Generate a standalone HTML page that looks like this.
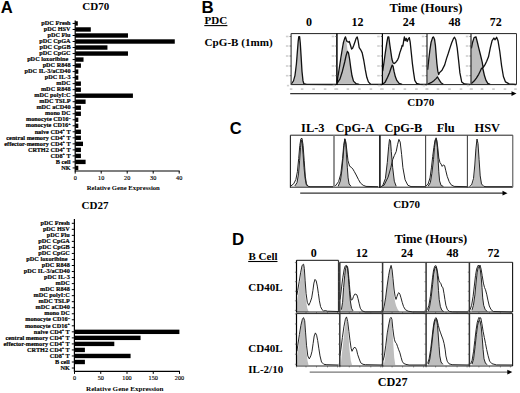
<!DOCTYPE html>
<html><head><meta charset="utf-8"><style>
html,body{margin:0;padding:0;background:#fff;}
#c{position:relative;width:520px;height:393px;overflow:hidden;background:#fff;}
svg{position:absolute;left:0;top:0;}
</style></head><body><div id="c">
<svg width="520" height="393" viewBox="0 0 520 393">
<text x="0.8" y="13.1" font-size="16.6" text-anchor="start" font-weight="bold" font-family='"Liberation Sans", sans-serif' fill="#000" >A</text>
<text x="82.3" y="10.0" font-size="11" text-anchor="start" font-weight="bold" font-family='"Liberation Serif", serif' fill="#000" >CD70</text>
<line x1="75.2" y1="20.5" x2="75.2" y2="171.5" stroke="#000" stroke-width="1.2"/>
<line x1="72.60000000000001" y1="23.45" x2="75.2" y2="23.45" stroke="#000" stroke-width="1.0"/>
<text x="70.60000000000001" y="25.15" font-size="6.25" text-anchor="end" font-weight="bold" font-family='"Liberation Serif", serif' fill="#000" stroke="#000" stroke-width="0.18">pDC Fresh</text>
<rect x="75.20" y="21.25" width="2.60" height="4.40" fill="#000"/>
<line x1="72.60000000000001" y1="29.47" x2="75.2" y2="29.47" stroke="#000" stroke-width="1.0"/>
<text x="70.60000000000001" y="31.169999999999998" font-size="6.25" text-anchor="end" font-weight="bold" font-family='"Liberation Serif", serif' fill="#000" stroke="#000" stroke-width="0.18">pDC HSV</text>
<rect x="75.20" y="27.27" width="15.60" height="4.40" fill="#000"/>
<line x1="72.60000000000001" y1="35.489999999999995" x2="75.2" y2="35.489999999999995" stroke="#000" stroke-width="1.0"/>
<text x="70.60000000000001" y="37.19" font-size="6.25" text-anchor="end" font-weight="bold" font-family='"Liberation Serif", serif' fill="#000" stroke="#000" stroke-width="0.18">pDC Flu</text>
<rect x="75.20" y="33.29" width="52.78" height="4.40" fill="#000"/>
<line x1="72.60000000000001" y1="41.51" x2="75.2" y2="41.51" stroke="#000" stroke-width="1.0"/>
<text x="70.60000000000001" y="43.21" font-size="6.25" text-anchor="end" font-weight="bold" font-family='"Liberation Serif", serif' fill="#000" stroke="#000" stroke-width="0.18">pDC CpGA</text>
<rect x="75.20" y="39.31" width="99.58" height="4.40" fill="#000"/>
<line x1="72.60000000000001" y1="47.53" x2="75.2" y2="47.53" stroke="#000" stroke-width="1.0"/>
<text x="70.60000000000001" y="49.230000000000004" font-size="6.25" text-anchor="end" font-weight="bold" font-family='"Liberation Serif", serif' fill="#000" stroke="#000" stroke-width="0.18">pDC CpGB</text>
<rect x="75.20" y="45.33" width="32.24" height="4.40" fill="#000"/>
<line x1="72.60000000000001" y1="53.55" x2="75.2" y2="53.55" stroke="#000" stroke-width="1.0"/>
<text x="70.60000000000001" y="55.25" font-size="6.25" text-anchor="end" font-weight="bold" font-family='"Liberation Serif", serif' fill="#000" stroke="#000" stroke-width="0.18">pDC CpGC</text>
<rect x="75.20" y="51.35" width="52.78" height="4.40" fill="#000"/>
<line x1="72.60000000000001" y1="59.56999999999999" x2="75.2" y2="59.56999999999999" stroke="#000" stroke-width="1.0"/>
<text x="68.30000000000001" y="61.269999999999996" font-size="6.25" text-anchor="end" font-weight="bold" font-family='"Liberation Serif", serif' fill="#000" stroke="#000" stroke-width="0.18">pDC loxoribine</text>
<rect x="75.20" y="57.37" width="8.32" height="4.40" fill="#000"/>
<line x1="72.60000000000001" y1="65.59" x2="75.2" y2="65.59" stroke="#000" stroke-width="1.0"/>
<text x="70.60000000000001" y="67.29" font-size="6.25" text-anchor="end" font-weight="bold" font-family='"Liberation Serif", serif' fill="#000" stroke="#000" stroke-width="0.18">pDC R848</text>
<rect x="75.20" y="63.39" width="5.72" height="4.40" fill="#000"/>
<line x1="72.60000000000001" y1="71.61" x2="75.2" y2="71.61" stroke="#000" stroke-width="1.0"/>
<text x="70.60000000000001" y="73.31" font-size="6.25" text-anchor="end" font-weight="bold" font-family='"Liberation Serif", serif' fill="#000" stroke="#000" stroke-width="0.18">pDC IL-3/aCD40</text>
<rect x="75.20" y="69.41" width="3.12" height="4.40" fill="#000"/>
<line x1="72.60000000000001" y1="77.63" x2="75.2" y2="77.63" stroke="#000" stroke-width="1.0"/>
<text x="70.60000000000001" y="79.33" font-size="6.25" text-anchor="end" font-weight="bold" font-family='"Liberation Serif", serif' fill="#000" stroke="#000" stroke-width="0.18">pDC IL-3</text>
<rect x="75.20" y="75.43" width="3.12" height="4.40" fill="#000"/>
<line x1="72.60000000000001" y1="83.64999999999999" x2="75.2" y2="83.64999999999999" stroke="#000" stroke-width="1.0"/>
<text x="70.60000000000001" y="85.35" font-size="6.25" text-anchor="end" font-weight="bold" font-family='"Liberation Serif", serif' fill="#000" stroke="#000" stroke-width="0.18">mDC</text>
<rect x="75.20" y="81.45" width="5.72" height="4.40" fill="#000"/>
<line x1="72.60000000000001" y1="89.67" x2="75.2" y2="89.67" stroke="#000" stroke-width="1.0"/>
<text x="70.60000000000001" y="91.37" font-size="6.25" text-anchor="end" font-weight="bold" font-family='"Liberation Serif", serif' fill="#000" stroke="#000" stroke-width="0.18">mDC R848</text>
<rect x="75.20" y="87.47" width="5.72" height="4.40" fill="#000"/>
<line x1="72.60000000000001" y1="95.69" x2="75.2" y2="95.69" stroke="#000" stroke-width="1.0"/>
<text x="70.60000000000001" y="97.39" font-size="6.25" text-anchor="end" font-weight="bold" font-family='"Liberation Serif", serif' fill="#000" stroke="#000" stroke-width="0.18">mDC polyI:C</text>
<rect x="75.20" y="93.49" width="57.72" height="4.40" fill="#000"/>
<line x1="72.60000000000001" y1="101.71" x2="75.2" y2="101.71" stroke="#000" stroke-width="1.0"/>
<text x="70.60000000000001" y="103.41" font-size="6.25" text-anchor="end" font-weight="bold" font-family='"Liberation Serif", serif' fill="#000" stroke="#000" stroke-width="0.18">mDC TSLP</text>
<rect x="75.20" y="99.51" width="10.40" height="4.40" fill="#000"/>
<line x1="72.60000000000001" y1="107.73" x2="75.2" y2="107.73" stroke="#000" stroke-width="1.0"/>
<text x="70.60000000000001" y="109.43" font-size="6.25" text-anchor="end" font-weight="bold" font-family='"Liberation Serif", serif' fill="#000" stroke="#000" stroke-width="0.18">mDC aCD40</text>
<rect x="75.20" y="105.53" width="5.72" height="4.40" fill="#000"/>
<line x1="72.60000000000001" y1="113.75" x2="75.2" y2="113.75" stroke="#000" stroke-width="1.0"/>
<text x="70.60000000000001" y="115.45" font-size="6.25" text-anchor="end" font-weight="bold" font-family='"Liberation Serif", serif' fill="#000" stroke="#000" stroke-width="0.18">mono DC</text>
<rect x="75.20" y="111.55" width="5.72" height="4.40" fill="#000"/>
<line x1="72.60000000000001" y1="119.77" x2="75.2" y2="119.77" stroke="#000" stroke-width="1.0"/>
<text x="70.60000000000001" y="121.47" font-size="6.25" text-anchor="end" font-weight="bold" font-family='"Liberation Serif", serif' fill="#000" stroke="#000" stroke-width="0.18">monocyte CD16<tspan dy="-2.6" font-size="4.2">&#8211;</tspan></text>
<rect x="75.20" y="117.57" width="3.12" height="4.40" fill="#000"/>
<line x1="72.60000000000001" y1="125.78999999999999" x2="75.2" y2="125.78999999999999" stroke="#000" stroke-width="1.0"/>
<text x="70.60000000000001" y="127.49" font-size="6.25" text-anchor="end" font-weight="bold" font-family='"Liberation Serif", serif' fill="#000" stroke="#000" stroke-width="0.18">monocyte CD16<tspan dy="-2.6" font-size="4.2">+</tspan></text>
<rect x="75.20" y="123.59" width="3.12" height="4.40" fill="#000"/>
<line x1="72.60000000000001" y1="131.80999999999997" x2="75.2" y2="131.80999999999997" stroke="#000" stroke-width="1.0"/>
<text x="70.60000000000001" y="133.50999999999996" font-size="6.25" text-anchor="end" font-weight="bold" font-family='"Liberation Serif", serif' fill="#000" stroke="#000" stroke-width="0.18">naive CD4<tspan dy="-2.6" font-size="4.2">+</tspan><tspan dy="2.6"> T</tspan></text>
<rect x="75.20" y="129.61" width="5.72" height="4.40" fill="#000"/>
<line x1="72.60000000000001" y1="137.82999999999998" x2="75.2" y2="137.82999999999998" stroke="#000" stroke-width="1.0"/>
<text x="70.60000000000001" y="139.52999999999997" font-size="6.25" text-anchor="end" font-weight="bold" font-family='"Liberation Serif", serif' fill="#000" stroke="#000" stroke-width="0.18">central memory CD4<tspan dy="-2.6" font-size="4.2">+</tspan><tspan dy="2.6"> T</tspan></text>
<rect x="75.20" y="135.63" width="5.72" height="4.40" fill="#000"/>
<line x1="72.60000000000001" y1="143.85" x2="75.2" y2="143.85" stroke="#000" stroke-width="1.0"/>
<text x="70.60000000000001" y="145.54999999999998" font-size="6.25" text-anchor="end" font-weight="bold" font-family='"Liberation Serif", serif' fill="#000" stroke="#000" stroke-width="0.18">effector-memory CD4<tspan dy="-2.6" font-size="4.2">+</tspan><tspan dy="2.6"> T</tspan></text>
<rect x="75.20" y="141.65" width="7.80" height="4.40" fill="#000"/>
<line x1="72.60000000000001" y1="149.86999999999998" x2="75.2" y2="149.86999999999998" stroke="#000" stroke-width="1.0"/>
<text x="70.60000000000001" y="151.56999999999996" font-size="6.25" text-anchor="end" font-weight="bold" font-family='"Liberation Serif", serif' fill="#000" stroke="#000" stroke-width="0.18">CRTH2 CD4<tspan dy="-2.6" font-size="4.2">+</tspan><tspan dy="2.6"> T</tspan></text>
<rect x="75.20" y="147.67" width="5.72" height="4.40" fill="#000"/>
<line x1="72.60000000000001" y1="155.89" x2="75.2" y2="155.89" stroke="#000" stroke-width="1.0"/>
<text x="70.60000000000001" y="157.58999999999997" font-size="6.25" text-anchor="end" font-weight="bold" font-family='"Liberation Serif", serif' fill="#000" stroke="#000" stroke-width="0.18">CD8<tspan dy="-2.6" font-size="4.2">+</tspan><tspan dy="2.6"> T</tspan></text>
<rect x="75.20" y="153.69" width="5.72" height="4.40" fill="#000"/>
<line x1="72.60000000000001" y1="161.90999999999997" x2="75.2" y2="161.90999999999997" stroke="#000" stroke-width="1.0"/>
<text x="70.60000000000001" y="163.60999999999996" font-size="6.25" text-anchor="end" font-weight="bold" font-family='"Liberation Serif", serif' fill="#000" stroke="#000" stroke-width="0.18">B cell</text>
<rect x="75.20" y="159.71" width="10.40" height="4.40" fill="#000"/>
<line x1="72.60000000000001" y1="167.92999999999998" x2="75.2" y2="167.92999999999998" stroke="#000" stroke-width="1.0"/>
<text x="70.60000000000001" y="169.62999999999997" font-size="6.25" text-anchor="end" font-weight="bold" font-family='"Liberation Serif", serif' fill="#000" stroke="#000" stroke-width="0.18">NK</text>
<rect x="75.20" y="165.73" width="3.12" height="4.40" fill="#000"/>
<line x1="75.2" y1="171.0" x2="179.7" y2="171.0" stroke="#000" stroke-width="1.2"/>
<line x1="75.2" y1="171.0" x2="75.2" y2="173.6" stroke="#000" stroke-width="1.0"/>
<text x="75.2" y="179.6" font-size="6.2" text-anchor="middle" font-weight="normal" font-family='"Liberation Serif", serif' fill="#000" stroke="#000" stroke-width="0.15">0</text>
<line x1="101.2" y1="171.0" x2="101.2" y2="173.6" stroke="#000" stroke-width="1.0"/>
<text x="101.2" y="179.6" font-size="6.2" text-anchor="middle" font-weight="normal" font-family='"Liberation Serif", serif' fill="#000" stroke="#000" stroke-width="0.15">10</text>
<line x1="127.2" y1="171.0" x2="127.2" y2="173.6" stroke="#000" stroke-width="1.0"/>
<text x="127.2" y="179.6" font-size="6.2" text-anchor="middle" font-weight="normal" font-family='"Liberation Serif", serif' fill="#000" stroke="#000" stroke-width="0.15">20</text>
<line x1="153.2" y1="171.0" x2="153.2" y2="173.6" stroke="#000" stroke-width="1.0"/>
<text x="153.2" y="179.6" font-size="6.2" text-anchor="middle" font-weight="normal" font-family='"Liberation Serif", serif' fill="#000" stroke="#000" stroke-width="0.15">30</text>
<line x1="179.2" y1="171.0" x2="179.2" y2="173.6" stroke="#000" stroke-width="1.0"/>
<text x="179.2" y="179.6" font-size="6.2" text-anchor="middle" font-weight="normal" font-family='"Liberation Serif", serif' fill="#000" stroke="#000" stroke-width="0.15">40</text>
<text x="123.3" y="190.4" font-size="6.7" text-anchor="middle" font-weight="bold" font-family='"Liberation Serif", serif' fill="#000" >Relative Gene Expression</text>
<text x="81.5" y="209.0" font-size="11" text-anchor="start" font-weight="bold" font-family='"Liberation Serif", serif' fill="#000" >CD27</text>
<line x1="74.4" y1="219" x2="74.4" y2="371.8" stroke="#000" stroke-width="1.2"/>
<line x1="71.80000000000001" y1="223.3" x2="74.4" y2="223.3" stroke="#000" stroke-width="1.0"/>
<text x="69.80000000000001" y="225.0" font-size="6.25" text-anchor="end" font-weight="bold" font-family='"Liberation Serif", serif' fill="#000" stroke="#000" stroke-width="0.18">pDC Fresh</text>
<line x1="71.80000000000001" y1="229.33" x2="74.4" y2="229.33" stroke="#000" stroke-width="1.0"/>
<text x="69.80000000000001" y="231.03" font-size="6.25" text-anchor="end" font-weight="bold" font-family='"Liberation Serif", serif' fill="#000" stroke="#000" stroke-width="0.18">pDC HSV</text>
<line x1="71.80000000000001" y1="235.36" x2="74.4" y2="235.36" stroke="#000" stroke-width="1.0"/>
<text x="69.80000000000001" y="237.06" font-size="6.25" text-anchor="end" font-weight="bold" font-family='"Liberation Serif", serif' fill="#000" stroke="#000" stroke-width="0.18">pDC Flu</text>
<line x1="71.80000000000001" y1="241.39000000000001" x2="74.4" y2="241.39000000000001" stroke="#000" stroke-width="1.0"/>
<text x="69.80000000000001" y="243.09" font-size="6.25" text-anchor="end" font-weight="bold" font-family='"Liberation Serif", serif' fill="#000" stroke="#000" stroke-width="0.18">pDC CpGA</text>
<line x1="71.80000000000001" y1="247.42000000000002" x2="74.4" y2="247.42000000000002" stroke="#000" stroke-width="1.0"/>
<text x="69.80000000000001" y="249.12" font-size="6.25" text-anchor="end" font-weight="bold" font-family='"Liberation Serif", serif' fill="#000" stroke="#000" stroke-width="0.18">pDC CpGB</text>
<line x1="71.80000000000001" y1="253.45000000000002" x2="74.4" y2="253.45000000000002" stroke="#000" stroke-width="1.0"/>
<text x="69.80000000000001" y="255.15" font-size="6.25" text-anchor="end" font-weight="bold" font-family='"Liberation Serif", serif' fill="#000" stroke="#000" stroke-width="0.18">pDC CpGC</text>
<line x1="71.80000000000001" y1="259.48" x2="74.4" y2="259.48" stroke="#000" stroke-width="1.0"/>
<text x="67.50000000000001" y="261.18" font-size="6.25" text-anchor="end" font-weight="bold" font-family='"Liberation Serif", serif' fill="#000" stroke="#000" stroke-width="0.18">pDC loxoribine</text>
<line x1="71.80000000000001" y1="265.51" x2="74.4" y2="265.51" stroke="#000" stroke-width="1.0"/>
<text x="69.80000000000001" y="267.21" font-size="6.25" text-anchor="end" font-weight="bold" font-family='"Liberation Serif", serif' fill="#000" stroke="#000" stroke-width="0.18">pDC R848</text>
<line x1="71.80000000000001" y1="271.54" x2="74.4" y2="271.54" stroke="#000" stroke-width="1.0"/>
<text x="69.80000000000001" y="273.24" font-size="6.25" text-anchor="end" font-weight="bold" font-family='"Liberation Serif", serif' fill="#000" stroke="#000" stroke-width="0.18">pDC IL-3/aCD40</text>
<line x1="71.80000000000001" y1="277.57" x2="74.4" y2="277.57" stroke="#000" stroke-width="1.0"/>
<text x="69.80000000000001" y="279.27" font-size="6.25" text-anchor="end" font-weight="bold" font-family='"Liberation Serif", serif' fill="#000" stroke="#000" stroke-width="0.18">pDC IL-3</text>
<line x1="71.80000000000001" y1="283.6" x2="74.4" y2="283.6" stroke="#000" stroke-width="1.0"/>
<text x="69.80000000000001" y="285.3" font-size="6.25" text-anchor="end" font-weight="bold" font-family='"Liberation Serif", serif' fill="#000" stroke="#000" stroke-width="0.18">mDC</text>
<line x1="71.80000000000001" y1="289.63" x2="74.4" y2="289.63" stroke="#000" stroke-width="1.0"/>
<text x="69.80000000000001" y="291.33" font-size="6.25" text-anchor="end" font-weight="bold" font-family='"Liberation Serif", serif' fill="#000" stroke="#000" stroke-width="0.18">mDC R848</text>
<line x1="71.80000000000001" y1="295.66" x2="74.4" y2="295.66" stroke="#000" stroke-width="1.0"/>
<text x="69.80000000000001" y="297.36" font-size="6.25" text-anchor="end" font-weight="bold" font-family='"Liberation Serif", serif' fill="#000" stroke="#000" stroke-width="0.18">mDC polyI:C</text>
<line x1="71.80000000000001" y1="301.69" x2="74.4" y2="301.69" stroke="#000" stroke-width="1.0"/>
<text x="69.80000000000001" y="303.39" font-size="6.25" text-anchor="end" font-weight="bold" font-family='"Liberation Serif", serif' fill="#000" stroke="#000" stroke-width="0.18">mDC TSLP</text>
<line x1="71.80000000000001" y1="307.72" x2="74.4" y2="307.72" stroke="#000" stroke-width="1.0"/>
<text x="69.80000000000001" y="309.42" font-size="6.25" text-anchor="end" font-weight="bold" font-family='"Liberation Serif", serif' fill="#000" stroke="#000" stroke-width="0.18">mDC aCD40</text>
<line x1="71.80000000000001" y1="313.75" x2="74.4" y2="313.75" stroke="#000" stroke-width="1.0"/>
<text x="69.80000000000001" y="315.45" font-size="6.25" text-anchor="end" font-weight="bold" font-family='"Liberation Serif", serif' fill="#000" stroke="#000" stroke-width="0.18">mono DC</text>
<line x1="71.80000000000001" y1="319.78000000000003" x2="74.4" y2="319.78000000000003" stroke="#000" stroke-width="1.0"/>
<text x="69.80000000000001" y="321.48" font-size="6.25" text-anchor="end" font-weight="bold" font-family='"Liberation Serif", serif' fill="#000" stroke="#000" stroke-width="0.18">monocyte CD16<tspan dy="-2.6" font-size="4.2">&#8211;</tspan></text>
<line x1="71.80000000000001" y1="325.81" x2="74.4" y2="325.81" stroke="#000" stroke-width="1.0"/>
<text x="69.80000000000001" y="327.51" font-size="6.25" text-anchor="end" font-weight="bold" font-family='"Liberation Serif", serif' fill="#000" stroke="#000" stroke-width="0.18">monocyte CD16<tspan dy="-2.6" font-size="4.2">+</tspan></text>
<line x1="71.80000000000001" y1="331.84000000000003" x2="74.4" y2="331.84000000000003" stroke="#000" stroke-width="1.0"/>
<text x="69.80000000000001" y="333.54" font-size="6.25" text-anchor="end" font-weight="bold" font-family='"Liberation Serif", serif' fill="#000" stroke="#000" stroke-width="0.18">naive CD4<tspan dy="-2.6" font-size="4.2">+</tspan><tspan dy="2.6"> T</tspan></text>
<rect x="74.40" y="329.64" width="105.00" height="4.40" fill="#000"/>
<line x1="71.80000000000001" y1="337.87" x2="74.4" y2="337.87" stroke="#000" stroke-width="1.0"/>
<text x="69.80000000000001" y="339.57" font-size="6.25" text-anchor="end" font-weight="bold" font-family='"Liberation Serif", serif' fill="#000" stroke="#000" stroke-width="0.18">central memory CD4<tspan dy="-2.6" font-size="4.2">+</tspan><tspan dy="2.6"> T</tspan></text>
<rect x="74.40" y="335.67" width="66.15" height="4.40" fill="#000"/>
<line x1="71.80000000000001" y1="343.90000000000003" x2="74.4" y2="343.90000000000003" stroke="#000" stroke-width="1.0"/>
<text x="69.80000000000001" y="345.6" font-size="6.25" text-anchor="end" font-weight="bold" font-family='"Liberation Serif", serif' fill="#000" stroke="#000" stroke-width="0.18">effector-memory CD4<tspan dy="-2.6" font-size="4.2">+</tspan><tspan dy="2.6"> T</tspan></text>
<rect x="74.40" y="341.70" width="39.90" height="4.40" fill="#000"/>
<line x1="71.80000000000001" y1="349.93" x2="74.4" y2="349.93" stroke="#000" stroke-width="1.0"/>
<text x="69.80000000000001" y="351.63" font-size="6.25" text-anchor="end" font-weight="bold" font-family='"Liberation Serif", serif' fill="#000" stroke="#000" stroke-width="0.18">CRTH2 CD4<tspan dy="-2.6" font-size="4.2">+</tspan><tspan dy="2.6"> T</tspan></text>
<rect x="74.40" y="347.73" width="10.50" height="4.40" fill="#000"/>
<line x1="71.80000000000001" y1="355.96000000000004" x2="74.4" y2="355.96000000000004" stroke="#000" stroke-width="1.0"/>
<text x="69.80000000000001" y="357.66" font-size="6.25" text-anchor="end" font-weight="bold" font-family='"Liberation Serif", serif' fill="#000" stroke="#000" stroke-width="0.18">CD8<tspan dy="-2.6" font-size="4.2">+</tspan><tspan dy="2.6"> T</tspan></text>
<rect x="74.40" y="353.76" width="56.18" height="4.40" fill="#000"/>
<line x1="71.80000000000001" y1="361.99" x2="74.4" y2="361.99" stroke="#000" stroke-width="1.0"/>
<text x="69.80000000000001" y="363.69" font-size="6.25" text-anchor="end" font-weight="bold" font-family='"Liberation Serif", serif' fill="#000" stroke="#000" stroke-width="0.18">B cell</text>
<rect x="74.40" y="359.79" width="10.50" height="4.40" fill="#000"/>
<line x1="71.80000000000001" y1="368.02" x2="74.4" y2="368.02" stroke="#000" stroke-width="1.0"/>
<text x="69.80000000000001" y="369.71999999999997" font-size="6.25" text-anchor="end" font-weight="bold" font-family='"Liberation Serif", serif' fill="#000" stroke="#000" stroke-width="0.18">NK</text>
<line x1="74.4" y1="371.3" x2="180.0" y2="371.3" stroke="#000" stroke-width="1.2"/>
<line x1="74.5" y1="371.3" x2="74.5" y2="373.90000000000003" stroke="#000" stroke-width="1.0"/>
<text x="74.5" y="379.90000000000003" font-size="6.2" text-anchor="middle" font-weight="normal" font-family='"Liberation Serif", serif' fill="#000" stroke="#000" stroke-width="0.15">0</text>
<line x1="100.75" y1="371.3" x2="100.75" y2="373.90000000000003" stroke="#000" stroke-width="1.0"/>
<text x="100.75" y="379.90000000000003" font-size="6.2" text-anchor="middle" font-weight="normal" font-family='"Liberation Serif", serif' fill="#000" stroke="#000" stroke-width="0.15">50</text>
<line x1="127" y1="371.3" x2="127" y2="373.90000000000003" stroke="#000" stroke-width="1.0"/>
<text x="127" y="379.90000000000003" font-size="6.2" text-anchor="middle" font-weight="normal" font-family='"Liberation Serif", serif' fill="#000" stroke="#000" stroke-width="0.15">100</text>
<line x1="153.25" y1="371.3" x2="153.25" y2="373.90000000000003" stroke="#000" stroke-width="1.0"/>
<text x="153.25" y="379.90000000000003" font-size="6.2" text-anchor="middle" font-weight="normal" font-family='"Liberation Serif", serif' fill="#000" stroke="#000" stroke-width="0.15">150</text>
<line x1="179.5" y1="371.3" x2="179.5" y2="373.90000000000003" stroke="#000" stroke-width="1.0"/>
<text x="179.5" y="379.90000000000003" font-size="6.2" text-anchor="middle" font-weight="normal" font-family='"Liberation Serif", serif' fill="#000" stroke="#000" stroke-width="0.15">200</text>
<text x="124.8" y="390.6" font-size="7.1" text-anchor="middle" font-weight="bold" font-family='"Liberation Serif", serif' fill="#000" >Relative Gene Expression</text>
<path d="M292.5,84.5 L294.0,81.0 L295.5,74.0 L296.7,62.0 L297.6,50.0 L298.5,40.0 L299.2,38.0 L300.0,42.0 L301.0,55.0 L302.0,70.0 L303.0,80.5 L304.0,84.5 Z" fill="#bebebe" stroke="none"/>
<path d="M337.0,84.5 L339.3,70.0 L341.0,60.0 L342.5,50.0 L344.0,42.0 L345.5,37.5 L346.5,42.0 L347.5,50.0 L348.5,53.0 L349.6,59.0 L350.8,68.0 L352.0,76.0 L353.5,81.5 L356.0,84.5 Z" fill="#bebebe" stroke="none"/>
<path d="M382.5,84.5 L382.7,71.0 L383.8,63.6 L385.3,53.0 L386.9,42.0 L388.0,37.5 L389.0,40.0 L390.0,46.0 L391.0,53.0 L392.0,60.0 L393.0,66.0 L394.0,71.0 L395.3,76.6 L396.8,80.4 L399.0,83.5 L401.0,84.5 Z" fill="#bebebe" stroke="none"/>
<path d="M427.5,84.5 L427.7,70.0 L428.8,59.0 L429.9,50.0 L431.1,42.2 L432.6,37.6 L433.4,37.5 L434.5,39.5 L435.4,45.5 L436.0,53.0 L436.9,63.6 L437.5,71.2 L438.0,76.0 L439.5,80.4 L441.0,82.7 L443.3,84.5 Z" fill="#bebebe" stroke="none"/>
<path d="M471.0,84.5 L471.0,60.0 L471.4,48.3 L472.6,42.2 L474.1,38.5 L476.0,37.5 L478.7,47.9 L480.5,55.0 L482.2,62.2 L483.1,67.6 L483.5,70.5 L484.5,75.8 L486.0,80.4 L487.8,83.4 L490.0,84.5 Z" fill="#bebebe" stroke="none"/>
<path d="M295.0,186.7 L297.0,182.7 L298.5,173.9 L299.6,160.7 L300.5,147.6 L301.3,140.5 L302.2,143.2 L303.1,154.2 L304.0,167.3 L305.1,178.3 L306.4,184.9 L307.5,186.7 Z" fill="#bebebe" stroke="none"/>
<path d="M338.1,186.7 L340.4,180.9 L341.9,170.2 L343.0,158.0 L343.9,147.3 L344.8,139.5 L345.8,144.2 L346.5,154.9 L347.3,167.2 L348.1,177.9 L349.1,184.0 L351.1,186.7 Z" fill="#bebebe" stroke="none"/>
<path d="M383.0,186.7 L385.4,178.5 L387.3,162.4 L388.7,146.2 L389.5,140.0 L390.5,141.0 L391.3,151.6 L392.7,167.7 L394.3,181.2 L396.2,186.7 Z" fill="#bebebe" stroke="none"/>
<path d="M428.1,186.7 L430.4,182.5 L431.9,173.3 L433.5,159.5 L434.5,147.3 L435.5,139.8 L436.4,139.3 L437.3,147.3 L438.1,159.5 L438.8,171.8 L439.6,180.9 L441.1,185.5 L443.4,186.7 Z" fill="#bebebe" stroke="none"/>
<path d="M471.8,186.7 L473.6,180.0 L474.9,168.0 L475.9,152.0 L476.7,142.0 L477.2,140.0 L477.9,144.0 L478.9,158.0 L480.0,174.0 L481.2,182.5 L483.0,186.7 Z" fill="#bebebe" stroke="none"/>
<path d="M297.0,312.0 L297.0,302.3 L298.5,292.0 L300.0,282.0 L301.5,271.0 L302.9,264.8 L303.8,266.0 L304.3,275.0 L305.1,284.0 L305.8,299.4 L307.3,308.2 L308.8,312.0 Z" fill="#bebebe" stroke="none"/>
<path d="M341.0,312.0 L341.4,309.7 L342.6,302.3 L343.6,287.5 L344.7,275.7 L345.6,268.3 L346.6,266.1 L347.6,268.3 L348.5,278.7 L349.4,290.5 L350.3,300.8 L351.5,308.2 L353.0,312.0 Z" fill="#bebebe" stroke="none"/>
<path d="M384.0,312.0 L385.6,298.5 L387.1,286.5 L388.6,276.0 L389.7,270.0 L391.1,265.8 L392.1,272.0 L393.0,283.0 L394.0,295.0 L395.1,302.0 L396.2,306.0 L397.5,309.0 L399.5,312.0 Z" fill="#bebebe" stroke="none"/>
<path d="M428.2,312.0 L429.6,306.7 L431.1,297.9 L432.6,284.6 L433.6,274.2 L434.8,268.3 L436.0,266.9 L437.0,271.3 L437.8,280.2 L438.5,290.5 L439.2,299.4 L440.4,306.7 L441.9,310.4 L443.7,312.0 Z" fill="#bebebe" stroke="none"/>
<path d="M471.9,312.0 L473.4,305.3 L474.9,294.9 L476.0,283.1 L477.1,272.8 L478.1,267.6 L479.3,266.6 L480.3,269.8 L481.2,277.2 L482.0,287.5 L482.7,297.9 L483.7,305.3 L485.2,309.7 L487.4,312.0 Z" fill="#bebebe" stroke="none"/>
<path d="M297.0,365.0 L297.1,355.9 L298.6,346.7 L300.1,332.9 L301.6,322.2 L303.2,318.4 L304.4,319.2 L305.3,332.9 L306.2,348.2 L307.5,360.5 L308.5,365.0 Z" fill="#bebebe" stroke="none"/>
<path d="M340.8,365.0 L341.6,355.9 L343.1,343.6 L344.6,329.9 L345.9,320.7 L346.8,319.2 L347.7,325.3 L348.6,337.5 L349.5,349.8 L350.8,360.5 L352.0,365.0 Z" fill="#bebebe" stroke="none"/>
<path d="M383.8,365.0 L385.4,355.9 L386.9,340.6 L388.4,328.3 L389.5,320.7 L390.7,318.4 L391.8,322.2 L392.7,334.5 L393.5,346.7 L394.2,357.4 L395.3,365.0 Z" fill="#bebebe" stroke="none"/>
<path d="M428.4,365.0 L429.9,358.9 L431.4,348.2 L432.9,334.5 L434.0,325.3 L435.2,319.9 L436.5,319.2 L437.5,325.3 L438.3,336.0 L439.1,346.7 L439.8,355.9 L441.0,362.0 L442.9,365.0 Z" fill="#bebebe" stroke="none"/>
<path d="M472.1,365.0 L473.6,358.8 L475.1,346.6 L476.4,334.4 L477.6,325.2 L478.8,320.7 L480.0,320.7 L481.2,326.8 L482.2,337.4 L483.1,349.6 L484.0,358.8 L485.5,363.4 L487.3,365.0 Z" fill="#bebebe" stroke="none"/>
<path d="M291.5,84.0 L293.5,80.9 L295.0,75.3 L296.4,64.0 L297.3,52.6 L298.2,41.3 L298.8,36.6 L299.6,36.6 L300.3,43.2 L301.1,56.4 L302.0,71.5 L303.0,80.9 L303.9,83.7 L306.7,84.3 L336.0,84.5" fill="none" stroke="#111" stroke-width="1.3" stroke-linejoin="round"/>
<path d="M337.1,81.9 L339.3,68.2 L340.9,57.5 L342.4,48.3 L343.5,42.2 L344.7,38.4 L345.5,36.9 L346.2,39.2 L347.0,41.5 L348.5,42.2 L349.3,41.5 L350.5,45.3 L351.6,49.1 L352.6,48.3 L353.8,45.3 L355.1,41.5 L356.1,38.4 L357.2,36.9 L358.1,40.7 L359.2,47.6 L360.7,49.8 L362.2,52.9 L363.8,60.5 L365.3,69.7 L366.8,77.3 L368.4,81.9 L370.6,84.2 L382.0,84.5" fill="none" stroke="#111" stroke-width="1.3" stroke-linejoin="round"/>
<path d="M337.0,83.4 L340.0,78.9 L342.4,71.2 L344.7,62.0 L346.2,55.2 L347.4,51.4 L348.5,52.9 L349.6,59.0 L350.8,68.2 L352.0,75.8 L353.5,81.1 L356.1,83.7 L359.2,84.4" fill="none" stroke="#111" stroke-width="1.3" stroke-linejoin="round"/>
<path d="M382.7,71.2 L383.8,63.6 L385.3,52.9 L386.9,42.2 L387.9,36.9 L388.8,36.9 L389.9,45.3 L391.0,52.9 L391.9,59.0 L393.0,62.8 L394.0,63.6 L395.3,62.8 L396.5,61.3 L397.6,59.8 L398.6,57.5 L399.8,52.9 L401.4,48.3 L402.1,45.3 L402.9,46.0 L403.7,40.7 L404.4,36.9 L405.2,40.7 L406.3,38.4 L407.2,41.5 L408.2,39.2 L409.3,37.6 L410.2,42.2 L411.3,52.9 L412.4,63.6 L413.6,72.7 L414.8,80.4 L416.6,83.4 L420.0,84.4 L427.0,84.5" fill="none" stroke="#111" stroke-width="1.3" stroke-linejoin="round"/>
<path d="M382.7,84.2 L385.3,81.9 L387.6,77.3 L389.5,72.7 L391.0,68.2 L392.2,65.1 L393.0,65.9 L394.0,71.2 L395.3,76.6 L396.8,80.4 L399.1,83.4 L402.1,84.4" fill="none" stroke="#111" stroke-width="1.3" stroke-linejoin="round"/>
<path d="M427.7,69.7 L428.8,59.0 L429.9,49.8 L431.1,42.2 L432.6,37.6 L433.4,36.9 L434.5,39.2 L435.4,45.3 L436.0,52.9 L436.9,63.6 L437.8,71.2 L438.7,74.5 L439.3,72.9 L442.0,70.2 L444.7,64.9 L446.5,58.6 L448.3,53.3 L450.0,47.9 L451.8,42.5 L453.3,38.9 L454.5,37.2 L455.8,39.8 L457.2,47.9 L458.6,60.4 L459.9,72.9 L461.7,81.9 L464.4,83.9 L470.0,84.5" fill="none" stroke="#111" stroke-width="1.3" stroke-linejoin="round"/>
<path d="M427.7,84.2 L431.1,82.7 L434.2,80.4 L436.0,78.6 L437.5,77.0 L438.4,78.5 L439.5,80.4 L441.0,82.7 L443.3,84.2" fill="none" stroke="#111" stroke-width="1.3" stroke-linejoin="round"/>
<path d="M471.4,48.3 L472.6,42.2 L474.1,37.6 L476.0,36.8 L477.3,42.0 L478.7,47.9 L480.5,55.0 L482.2,62.2 L483.1,67.6 L484.9,64.9 L486.7,61.3 L488.5,56.8 L490.3,47.9 L492.1,40.7 L493.9,38.0 L495.1,39.8 L496.6,37.2 L498.0,40.7 L499.8,51.5 L501.6,65.8 L503.4,76.5 L505.5,81.9 L509.1,83.9 L516.0,84.5" fill="none" stroke="#111" stroke-width="1.3" stroke-linejoin="round"/>
<path d="M471.4,83.4 L474.1,81.1 L476.4,78.1 L478.7,74.3 L480.2,71.2 L481.4,68.6 L482.5,67.8 L483.3,70.5 L484.5,75.8 L486.0,80.4 L487.8,83.4 L490.1,84.4" fill="none" stroke="#111" stroke-width="1.3" stroke-linejoin="round"/>
<path d="M290.8,186.0 L293.7,183.8 L295.9,179.4 L297.4,171.7 L298.7,158.5 L299.8,145.4 L300.9,138.8 L302.0,138.3 L303.1,145.4 L304.2,160.7 L305.3,176.1 L306.4,183.8 L307.9,186.2 L310.0,186.7 L333.0,186.7" fill="none" stroke="#222" stroke-width="1.0" stroke-linejoin="round"/>
<path d="M294.8,186.0 L297.0,182.7 L298.5,173.9 L299.6,160.7 L300.5,147.6 L301.3,139.9 L302.2,143.2 L303.1,154.2 L304.0,167.3 L305.1,178.3 L306.4,184.9 L308.0,186.5" fill="none" stroke="#222" stroke-width="1.0" stroke-linejoin="round"/>
<path d="M335.3,186.0 L338.6,181.6 L340.8,173.9 L342.6,158.5 L343.7,145.4 L344.8,138.8 L345.9,142.1 L347.0,152.0 L348.0,160.7 L349.6,166.2 L351.3,167.3 L352.9,169.1 L354.4,171.7 L356.2,175.0 L358.4,179.4 L360.5,183.1 L363.2,185.3 L366.0,186.4 L378.0,186.7" fill="none" stroke="#222" stroke-width="1.0" stroke-linejoin="round"/>
<path d="M338.1,186.3 L340.4,180.9 L341.9,170.2 L343.0,158.0 L343.9,147.3 L344.8,138.9 L345.8,144.2 L346.5,154.9 L347.3,167.2 L348.1,177.9 L349.1,184.0 L351.1,186.3" fill="none" stroke="#222" stroke-width="1.0" stroke-linejoin="round"/>
<path d="M381.5,186.5 L382.7,185.6 L385.4,178.5 L387.3,162.4 L388.7,146.2 L389.5,139.4 L390.5,140.8 L391.3,151.6 L392.7,167.7 L394.3,181.2 L396.2,186.3" fill="none" stroke="#222" stroke-width="1.0" stroke-linejoin="round"/>
<path d="M381.0,186.6 L384.1,185.2 L388.1,177.1 L390.8,167.7 L392.7,159.6 L394.3,155.6 L396.2,151.6 L397.5,144.8 L398.9,139.4 L400.2,142.1 L401.6,154.3 L402.9,167.7 L405.1,179.8 L407.8,185.2 L411.0,186.6 L425.0,186.7" fill="none" stroke="#222" stroke-width="1.0" stroke-linejoin="round"/>
<path d="M425.8,186.3 L428.1,184.0 L430.0,177.9 L431.5,167.2 L432.7,156.5 L433.9,147.3 L435.0,140.4 L436.1,137.8 L437.0,141.2 L437.9,148.8 L438.8,158.0 L440.0,162.6 L441.1,164.1 L442.2,166.4 L443.4,164.9 L444.6,165.6 L445.7,170.2 L447.2,176.3 L449.2,181.7 L451.1,184.8 L454.1,186.4 L467.0,186.7" fill="none" stroke="#222" stroke-width="1.0" stroke-linejoin="round"/>
<path d="M428.1,186.3 L430.4,182.5 L431.9,173.3 L433.5,159.5 L434.5,147.3 L435.5,139.6 L436.4,138.9 L437.3,147.3 L438.1,159.5 L438.8,171.8 L439.6,180.9 L441.1,185.5 L443.4,186.4" fill="none" stroke="#222" stroke-width="1.0" stroke-linejoin="round"/>
<path d="M469.5,186.4 L471.6,185.0 L473.5,178.5 L474.8,165.0 L475.9,148.9 L477.0,139.0 L478.0,143.5 L479.1,159.7 L480.2,175.9 L481.5,183.9 L483.7,186.3 L486.0,186.7 L512.0,186.7" fill="none" stroke="#222" stroke-width="1.0" stroke-linejoin="round"/>
<path d="M296.9,294.9 L297.7,290.5 L299.2,281.6 L300.6,272.8 L302.1,265.4 L303.6,264.2 L304.3,268.3 L305.1,280.2 L306.1,293.5 L307.3,302.3 L308.8,305.3 L310.2,302.3 L311.7,297.9 L312.9,290.5 L313.9,283.1 L315.0,279.4 L316.2,280.9 L317.3,286.1 L318.4,293.5 L319.4,300.8 L320.6,306.7 L322.1,309.7 L323.5,310.9 L325.8,310.6 L327.2,311.2 L338.3,311.5" fill="none" stroke="#1a1a1a" stroke-width="0.95" stroke-linejoin="round"/>
<path d="M340.0,299.4 L340.7,294.9 L341.7,286.1 L342.9,277.2 L344.1,269.8 L345.1,266.1 L346.6,265.4 L347.6,266.9 L348.5,274.2 L349.4,284.6 L350.3,294.9 L351.2,300.1 L352.5,299.4 L353.5,296.4 L354.7,294.2 L355.9,294.2 L356.9,294.9 L358.0,298.6 L359.2,303.8 L360.3,308.2 L362.1,310.9 L365.1,311.9 L382.0,311.9" fill="none" stroke="#1a1a1a" stroke-width="0.95" stroke-linejoin="round"/>
<path d="M341.4,309.7 L342.6,302.3 L343.6,287.5 L344.7,275.7 L345.6,268.3 L346.6,266.1 L347.6,268.3 L348.5,278.7 L349.4,290.5 L350.3,300.8 L351.5,308.2 L353.0,310.9" fill="none" stroke="#1a1a1a" stroke-width="0.95" stroke-linejoin="round"/>
<path d="M383.0,311.2 L384.1,306.7 L385.6,297.9 L387.1,286.1 L388.6,275.7 L389.7,269.8 L391.1,265.4 L392.1,269.8 L393.0,278.7 L394.0,289.0 L395.1,296.4 L396.0,299.4 L397.0,296.4 L398.0,293.5 L398.9,292.7 L399.9,294.2 L401.0,297.9 L402.2,302.3 L403.6,306.7 L405.4,309.7 L408.1,311.2 L412.5,311.9 L425.0,312.0" fill="none" stroke="#1a1a1a" stroke-width="0.95" stroke-linejoin="round"/>
<path d="M427.4,309.7 L428.9,305.3 L430.4,296.4 L431.6,286.1 L432.6,277.2 L433.6,269.8 L434.8,266.1 L436.0,265.7 L437.0,269.1 L438.1,275.7 L439.0,280.9 L440.0,282.4 L441.0,283.8 L441.9,286.8 L442.9,287.5 L444.0,293.5 L444.9,299.4 L445.9,305.3 L447.4,309.7 L449.6,311.5 L452.5,311.9 L468.0,312.0" fill="none" stroke="#1a1a1a" stroke-width="0.95" stroke-linejoin="round"/>
<path d="M428.2,311.2 L429.6,306.7 L431.1,297.9 L432.6,284.6 L433.6,274.2 L434.8,268.3 L436.0,266.9 L437.0,271.3 L437.8,280.2 L438.5,290.5 L439.2,299.4 L440.4,306.7 L441.9,310.4 L443.7,311.5" fill="none" stroke="#1a1a1a" stroke-width="0.95" stroke-linejoin="round"/>
<path d="M470.1,309.7 L471.6,305.3 L473.1,296.4 L474.3,286.1 L475.5,275.7 L476.6,269.1 L477.8,266.1 L478.5,265.0 L479.3,267.0 L480.0,265.1 L481.1,269.1 L482.2,275.7 L483.4,283.1 L484.5,287.5 L485.5,289.8 L486.7,294.2 L487.9,300.1 L489.3,306.0 L491.1,309.7 L493.3,311.5 L512.0,312.0" fill="none" stroke="#1a1a1a" stroke-width="0.95" stroke-linejoin="round"/>
<path d="M471.9,310.4 L473.4,305.3 L474.9,294.9 L476.0,283.1 L477.1,272.8 L478.1,267.6 L479.3,266.6 L480.3,269.8 L481.2,277.2 L482.0,287.5 L482.7,297.9 L483.7,305.3 L485.2,309.7 L487.4,311.5" fill="none" stroke="#1a1a1a" stroke-width="0.95" stroke-linejoin="round"/>
<path d="M296.9,351.3 L297.8,345.2 L299.4,334.5 L300.9,325.3 L302.4,319.2 L303.5,317.6 L304.7,320.7 L305.6,332.9 L306.5,345.2 L307.8,355.9 L309.3,358.9 L310.8,355.9 L312.0,351.3 L313.1,343.6 L314.2,336.0 L315.4,332.9 L316.6,335.2 L317.7,340.6 L318.8,348.2 L320.0,355.9 L321.5,362.0 L323.8,364.3 L326.9,364.7 L338.0,365.0" fill="none" stroke="#1a1a1a" stroke-width="0.95" stroke-linejoin="round"/>
<path d="M339.8,355.9 L340.8,349.8 L342.4,337.5 L343.9,326.8 L345.4,319.2 L346.5,316.9 L347.7,321.5 L348.9,331.4 L350.0,340.6 L351.1,348.2 L352.0,351.3 L353.1,349.0 L354.1,347.5 L355.3,347.5 L356.6,349.8 L357.6,354.3 L359.2,358.9 L360.7,362.8 L363.0,364.3 L365.3,364.7 L382.0,365.0" fill="none" stroke="#1a1a1a" stroke-width="0.95" stroke-linejoin="round"/>
<path d="M383.1,360.5 L384.3,355.9 L385.8,345.2 L387.3,332.9 L388.9,323.8 L390.1,318.4 L391.0,317.3 L391.9,319.2 L392.8,328.3 L393.8,336.0 L394.5,339.8 L395.3,342.1 L396.5,343.6 L397.6,346.7 L398.7,349.8 L399.9,352.8 L401.1,357.4 L402.2,361.2 L403.7,363.5 L406.0,364.4 L409.1,365.0 L426.0,365.0" fill="none" stroke="#1a1a1a" stroke-width="0.95" stroke-linejoin="round"/>
<path d="M427.6,363.5 L429.1,358.9 L430.6,349.8 L431.9,339.1 L432.9,329.9 L434.0,322.2 L435.2,318.4 L436.1,317.6 L437.1,319.9 L438.3,325.3 L439.5,329.9 L440.6,332.9 L441.7,336.0 L442.9,339.1 L444.1,343.6 L445.2,349.8 L445.9,355.9 L447.2,361.2 L449.0,363.8 L452.1,364.7 L469.0,365.0" fill="none" stroke="#1a1a1a" stroke-width="0.95" stroke-linejoin="round"/>
<path d="M428.4,364.3 L429.9,358.9 L431.4,348.2 L432.9,334.5 L434.0,325.3 L435.2,319.9 L436.5,319.2 L437.5,325.3 L438.3,336.0 L439.1,346.7 L439.8,355.9 L441.0,362.0 L442.9,364.4" fill="none" stroke="#1a1a1a" stroke-width="0.95" stroke-linejoin="round"/>
<path d="M470.6,364.1 L472.1,360.3 L473.6,351.2 L474.8,340.5 L476.1,329.8 L477.3,322.2 L478.5,318.4 L479.0,317.4 L479.6,319.5 L480.4,317.6 L480.9,318.4 L481.9,323.7 L483.1,331.3 L484.3,337.4 L485.5,343.5 L486.7,349.6 L488.1,355.7 L489.6,361.1 L491.9,363.7 L496.5,364.9 L512.0,365.0" fill="none" stroke="#1a1a1a" stroke-width="0.95" stroke-linejoin="round"/>
<path d="M472.1,364.1 L473.6,358.8 L475.1,346.6 L476.4,334.4 L477.6,325.2 L478.8,320.7 L480.0,320.7 L481.2,326.8 L482.2,337.4 L483.1,349.6 L484.0,358.8 L485.5,363.4 L487.3,364.6" fill="none" stroke="#1a1a1a" stroke-width="0.95" stroke-linejoin="round"/>
<line x1="291.1" y1="33.6" x2="516.5" y2="33.6" stroke="#222" stroke-width="1.0"/>
<line x1="291.1" y1="84.6" x2="516.5" y2="84.6" stroke="#222" stroke-width="1.0"/>
<line x1="516.5" y1="33.6" x2="516.5" y2="84.6" stroke="#333" stroke-width="1.0"/>
<line x1="291.1" y1="33.6" x2="291.1" y2="85.1" stroke="#333" stroke-width="1.1"/>
<rect x="285.90" y="35.70" width="2.60" height="1.60" fill="#cfcfcf"/>
<line x1="289.6" y1="36.5" x2="291.1" y2="36.5" stroke="#444" stroke-width="0.8"/>
<rect x="285.90" y="45.20" width="2.60" height="1.60" fill="#cfcfcf"/>
<line x1="289.6" y1="46" x2="291.1" y2="46" stroke="#444" stroke-width="0.8"/>
<rect x="285.90" y="55.20" width="2.60" height="1.60" fill="#cfcfcf"/>
<line x1="289.6" y1="56" x2="291.1" y2="56" stroke="#444" stroke-width="0.8"/>
<rect x="285.90" y="65.20" width="2.60" height="1.60" fill="#cfcfcf"/>
<line x1="289.6" y1="66" x2="291.1" y2="66" stroke="#444" stroke-width="0.8"/>
<rect x="285.90" y="74.90" width="2.60" height="1.60" fill="#cfcfcf"/>
<line x1="289.6" y1="75.7" x2="291.1" y2="75.7" stroke="#444" stroke-width="0.8"/>
<rect x="286.90" y="84.80" width="2.20" height="1.60" fill="#cfcfcf"/>
<rect x="289.80" y="88.20" width="2.60" height="1.80" fill="#cfcfcf"/>
<rect x="300.80" y="88.20" width="2.60" height="1.80" fill="#cfcfcf"/>
<rect x="312.30" y="88.20" width="2.60" height="1.80" fill="#cfcfcf"/>
<rect x="323.80" y="88.20" width="2.60" height="1.80" fill="#cfcfcf"/>
<rect x="334.30" y="88.20" width="2.60" height="1.80" fill="#cfcfcf"/>
<line x1="336.9" y1="33.6" x2="336.9" y2="85.1" stroke="#000" stroke-width="1.5"/>
<rect x="331.70" y="35.70" width="2.60" height="1.60" fill="#cfcfcf"/>
<line x1="335.4" y1="36.5" x2="336.9" y2="36.5" stroke="#444" stroke-width="0.8"/>
<rect x="331.70" y="45.20" width="2.60" height="1.60" fill="#cfcfcf"/>
<line x1="335.4" y1="46" x2="336.9" y2="46" stroke="#444" stroke-width="0.8"/>
<rect x="331.70" y="55.20" width="2.60" height="1.60" fill="#cfcfcf"/>
<line x1="335.4" y1="56" x2="336.9" y2="56" stroke="#444" stroke-width="0.8"/>
<rect x="331.70" y="65.20" width="2.60" height="1.60" fill="#cfcfcf"/>
<line x1="335.4" y1="66" x2="336.9" y2="66" stroke="#444" stroke-width="0.8"/>
<rect x="331.70" y="74.90" width="2.60" height="1.60" fill="#cfcfcf"/>
<line x1="335.4" y1="75.7" x2="336.9" y2="75.7" stroke="#444" stroke-width="0.8"/>
<rect x="332.70" y="84.80" width="2.20" height="1.60" fill="#cfcfcf"/>
<rect x="335.60" y="88.20" width="2.60" height="1.80" fill="#cfcfcf"/>
<rect x="346.60" y="88.20" width="2.60" height="1.80" fill="#cfcfcf"/>
<rect x="358.10" y="88.20" width="2.60" height="1.80" fill="#cfcfcf"/>
<rect x="369.60" y="88.20" width="2.60" height="1.80" fill="#cfcfcf"/>
<rect x="380.10" y="88.20" width="2.60" height="1.80" fill="#cfcfcf"/>
<line x1="382.4" y1="33.6" x2="382.4" y2="85.1" stroke="#000" stroke-width="1.2"/>
<rect x="377.20" y="35.70" width="2.60" height="1.60" fill="#cfcfcf"/>
<line x1="380.9" y1="36.5" x2="382.4" y2="36.5" stroke="#444" stroke-width="0.8"/>
<rect x="377.20" y="45.20" width="2.60" height="1.60" fill="#cfcfcf"/>
<line x1="380.9" y1="46" x2="382.4" y2="46" stroke="#444" stroke-width="0.8"/>
<rect x="377.20" y="55.20" width="2.60" height="1.60" fill="#cfcfcf"/>
<line x1="380.9" y1="56" x2="382.4" y2="56" stroke="#444" stroke-width="0.8"/>
<rect x="377.20" y="65.20" width="2.60" height="1.60" fill="#cfcfcf"/>
<line x1="380.9" y1="66" x2="382.4" y2="66" stroke="#444" stroke-width="0.8"/>
<rect x="377.20" y="74.90" width="2.60" height="1.60" fill="#cfcfcf"/>
<line x1="380.9" y1="75.7" x2="382.4" y2="75.7" stroke="#444" stroke-width="0.8"/>
<rect x="378.20" y="84.80" width="2.20" height="1.60" fill="#cfcfcf"/>
<rect x="381.10" y="88.20" width="2.60" height="1.80" fill="#cfcfcf"/>
<rect x="392.10" y="88.20" width="2.60" height="1.80" fill="#cfcfcf"/>
<rect x="403.60" y="88.20" width="2.60" height="1.80" fill="#cfcfcf"/>
<rect x="415.10" y="88.20" width="2.60" height="1.80" fill="#cfcfcf"/>
<rect x="425.60" y="88.20" width="2.60" height="1.80" fill="#cfcfcf"/>
<line x1="427.0" y1="33.6" x2="427.0" y2="85.1" stroke="#333" stroke-width="1.3"/>
<rect x="421.80" y="35.70" width="2.60" height="1.60" fill="#cfcfcf"/>
<line x1="425.5" y1="36.5" x2="427.0" y2="36.5" stroke="#444" stroke-width="0.8"/>
<rect x="421.80" y="45.20" width="2.60" height="1.60" fill="#cfcfcf"/>
<line x1="425.5" y1="46" x2="427.0" y2="46" stroke="#444" stroke-width="0.8"/>
<rect x="421.80" y="55.20" width="2.60" height="1.60" fill="#cfcfcf"/>
<line x1="425.5" y1="56" x2="427.0" y2="56" stroke="#444" stroke-width="0.8"/>
<rect x="421.80" y="65.20" width="2.60" height="1.60" fill="#cfcfcf"/>
<line x1="425.5" y1="66" x2="427.0" y2="66" stroke="#444" stroke-width="0.8"/>
<rect x="421.80" y="74.90" width="2.60" height="1.60" fill="#cfcfcf"/>
<line x1="425.5" y1="75.7" x2="427.0" y2="75.7" stroke="#444" stroke-width="0.8"/>
<rect x="422.80" y="84.80" width="2.20" height="1.60" fill="#cfcfcf"/>
<rect x="425.70" y="88.20" width="2.60" height="1.80" fill="#cfcfcf"/>
<rect x="436.70" y="88.20" width="2.60" height="1.80" fill="#cfcfcf"/>
<rect x="448.20" y="88.20" width="2.60" height="1.80" fill="#cfcfcf"/>
<rect x="459.70" y="88.20" width="2.60" height="1.80" fill="#cfcfcf"/>
<rect x="470.20" y="88.20" width="2.60" height="1.80" fill="#cfcfcf"/>
<line x1="471.0" y1="33.6" x2="471.0" y2="85.1" stroke="#333" stroke-width="1.3"/>
<rect x="465.80" y="35.70" width="2.60" height="1.60" fill="#cfcfcf"/>
<line x1="469.5" y1="36.5" x2="471.0" y2="36.5" stroke="#444" stroke-width="0.8"/>
<rect x="465.80" y="45.20" width="2.60" height="1.60" fill="#cfcfcf"/>
<line x1="469.5" y1="46" x2="471.0" y2="46" stroke="#444" stroke-width="0.8"/>
<rect x="465.80" y="55.20" width="2.60" height="1.60" fill="#cfcfcf"/>
<line x1="469.5" y1="56" x2="471.0" y2="56" stroke="#444" stroke-width="0.8"/>
<rect x="465.80" y="65.20" width="2.60" height="1.60" fill="#cfcfcf"/>
<line x1="469.5" y1="66" x2="471.0" y2="66" stroke="#444" stroke-width="0.8"/>
<rect x="465.80" y="74.90" width="2.60" height="1.60" fill="#cfcfcf"/>
<line x1="469.5" y1="75.7" x2="471.0" y2="75.7" stroke="#444" stroke-width="0.8"/>
<rect x="466.80" y="84.80" width="2.20" height="1.60" fill="#cfcfcf"/>
<rect x="469.70" y="88.20" width="2.60" height="1.80" fill="#cfcfcf"/>
<rect x="480.70" y="88.20" width="2.60" height="1.80" fill="#cfcfcf"/>
<rect x="492.20" y="88.20" width="2.60" height="1.80" fill="#cfcfcf"/>
<rect x="503.70" y="88.20" width="2.60" height="1.80" fill="#cfcfcf"/>
<rect x="514.20" y="88.20" width="2.60" height="1.80" fill="#cfcfcf"/>
<line x1="290.4" y1="135.2" x2="512.8" y2="135.2" stroke="#222" stroke-width="1.0"/>
<line x1="290.4" y1="187.2" x2="512.8" y2="187.2" stroke="#222" stroke-width="1.0"/>
<line x1="512.8" y1="135.2" x2="512.8" y2="187.2" stroke="#444" stroke-width="1.0"/>
<line x1="290.4" y1="135.2" x2="290.4" y2="187.7" stroke="#222" stroke-width="1.1"/>
<line x1="334.0" y1="135.2" x2="334.0" y2="187.7" stroke="#777" stroke-width="1.6"/>
<line x1="379.9" y1="135.2" x2="379.9" y2="187.7" stroke="#000" stroke-width="1.5"/>
<line x1="425.6" y1="135.2" x2="425.6" y2="187.7" stroke="#444" stroke-width="1.1"/>
<line x1="467.4" y1="135.2" x2="467.4" y2="187.7" stroke="#444" stroke-width="1.1"/>
<line x1="296.5" y1="260.3" x2="338.5" y2="260.3" stroke="#111" stroke-width="1.0"/>
<line x1="338.5" y1="260.3" x2="338.5" y2="312" stroke="#333" stroke-width="1.2"/>
<line x1="339.8" y1="262.3" x2="512.6" y2="262.3" stroke="#222" stroke-width="1.0"/>
<line x1="296.5" y1="312.0" x2="512.6" y2="312.0" stroke="#222" stroke-width="1.1"/>
<line x1="512.6" y1="262.3" x2="512.6" y2="312.0" stroke="#111" stroke-width="1.1"/>
<line x1="296.5" y1="260.3" x2="296.5" y2="312.5" stroke="#000" stroke-width="1.2"/>
<line x1="294.9" y1="262.6" x2="296.5" y2="262.6" stroke="#555" stroke-width="0.7"/>
<line x1="294.9" y1="272.15769230769234" x2="296.5" y2="272.15769230769234" stroke="#555" stroke-width="0.7"/>
<line x1="294.9" y1="281.7153846153846" x2="296.5" y2="281.7153846153846" stroke="#555" stroke-width="0.7"/>
<line x1="294.9" y1="291.2730769230769" x2="296.5" y2="291.2730769230769" stroke="#555" stroke-width="0.7"/>
<line x1="294.9" y1="300.83076923076925" x2="296.5" y2="300.83076923076925" stroke="#555" stroke-width="0.7"/>
<line x1="294.9" y1="310.38846153846157" x2="296.5" y2="310.38846153846157" stroke="#555" stroke-width="0.7"/>
<line x1="339.8" y1="262.3" x2="339.8" y2="312.5" stroke="#333" stroke-width="1.5"/>
<line x1="338.2" y1="262.6" x2="339.8" y2="262.6" stroke="#555" stroke-width="0.7"/>
<line x1="338.2" y1="272.15769230769234" x2="339.8" y2="272.15769230769234" stroke="#555" stroke-width="0.7"/>
<line x1="338.2" y1="281.7153846153846" x2="339.8" y2="281.7153846153846" stroke="#555" stroke-width="0.7"/>
<line x1="338.2" y1="291.2730769230769" x2="339.8" y2="291.2730769230769" stroke="#555" stroke-width="0.7"/>
<line x1="338.2" y1="300.83076923076925" x2="339.8" y2="300.83076923076925" stroke="#555" stroke-width="0.7"/>
<line x1="338.2" y1="310.38846153846157" x2="339.8" y2="310.38846153846157" stroke="#555" stroke-width="0.7"/>
<line x1="382.6" y1="262.3" x2="382.6" y2="312.5" stroke="#333" stroke-width="1.5"/>
<line x1="381.0" y1="262.6" x2="382.6" y2="262.6" stroke="#555" stroke-width="0.7"/>
<line x1="381.0" y1="272.15769230769234" x2="382.6" y2="272.15769230769234" stroke="#555" stroke-width="0.7"/>
<line x1="381.0" y1="281.7153846153846" x2="382.6" y2="281.7153846153846" stroke="#555" stroke-width="0.7"/>
<line x1="381.0" y1="291.2730769230769" x2="382.6" y2="291.2730769230769" stroke="#555" stroke-width="0.7"/>
<line x1="381.0" y1="300.83076923076925" x2="382.6" y2="300.83076923076925" stroke="#555" stroke-width="0.7"/>
<line x1="381.0" y1="310.38846153846157" x2="382.6" y2="310.38846153846157" stroke="#555" stroke-width="0.7"/>
<line x1="426.1" y1="262.3" x2="426.1" y2="312.5" stroke="#333" stroke-width="1.5"/>
<line x1="424.5" y1="262.6" x2="426.1" y2="262.6" stroke="#555" stroke-width="0.7"/>
<line x1="424.5" y1="272.15769230769234" x2="426.1" y2="272.15769230769234" stroke="#555" stroke-width="0.7"/>
<line x1="424.5" y1="281.7153846153846" x2="426.1" y2="281.7153846153846" stroke="#555" stroke-width="0.7"/>
<line x1="424.5" y1="291.2730769230769" x2="426.1" y2="291.2730769230769" stroke="#555" stroke-width="0.7"/>
<line x1="424.5" y1="300.83076923076925" x2="426.1" y2="300.83076923076925" stroke="#555" stroke-width="0.7"/>
<line x1="424.5" y1="310.38846153846157" x2="426.1" y2="310.38846153846157" stroke="#555" stroke-width="0.7"/>
<line x1="469.4" y1="262.3" x2="469.4" y2="312.5" stroke="#333" stroke-width="1.5"/>
<line x1="467.79999999999995" y1="262.6" x2="469.4" y2="262.6" stroke="#555" stroke-width="0.7"/>
<line x1="467.79999999999995" y1="272.15769230769234" x2="469.4" y2="272.15769230769234" stroke="#555" stroke-width="0.7"/>
<line x1="467.79999999999995" y1="281.7153846153846" x2="469.4" y2="281.7153846153846" stroke="#555" stroke-width="0.7"/>
<line x1="467.79999999999995" y1="291.2730769230769" x2="469.4" y2="291.2730769230769" stroke="#555" stroke-width="0.7"/>
<line x1="467.79999999999995" y1="300.83076923076925" x2="469.4" y2="300.83076923076925" stroke="#555" stroke-width="0.7"/>
<line x1="467.79999999999995" y1="310.38846153846157" x2="469.4" y2="310.38846153846157" stroke="#555" stroke-width="0.7"/>
<line x1="296.5" y1="312.0" x2="296.5" y2="313.4" stroke="#555" stroke-width="0.7"/>
<line x1="306.0" y1="312.0" x2="306.0" y2="313.4" stroke="#555" stroke-width="0.7"/>
<line x1="316.5" y1="312.0" x2="316.5" y2="313.4" stroke="#555" stroke-width="0.7"/>
<line x1="327.5" y1="312.0" x2="327.5" y2="313.4" stroke="#555" stroke-width="0.7"/>
<line x1="337.5" y1="312.0" x2="337.5" y2="313.4" stroke="#555" stroke-width="0.7"/>
<line x1="339.8" y1="312.0" x2="339.8" y2="313.4" stroke="#555" stroke-width="0.7"/>
<line x1="349.3" y1="312.0" x2="349.3" y2="313.4" stroke="#555" stroke-width="0.7"/>
<line x1="359.8" y1="312.0" x2="359.8" y2="313.4" stroke="#555" stroke-width="0.7"/>
<line x1="370.8" y1="312.0" x2="370.8" y2="313.4" stroke="#555" stroke-width="0.7"/>
<line x1="380.8" y1="312.0" x2="380.8" y2="313.4" stroke="#555" stroke-width="0.7"/>
<line x1="382.6" y1="312.0" x2="382.6" y2="313.4" stroke="#555" stroke-width="0.7"/>
<line x1="392.1" y1="312.0" x2="392.1" y2="313.4" stroke="#555" stroke-width="0.7"/>
<line x1="402.6" y1="312.0" x2="402.6" y2="313.4" stroke="#555" stroke-width="0.7"/>
<line x1="413.6" y1="312.0" x2="413.6" y2="313.4" stroke="#555" stroke-width="0.7"/>
<line x1="423.6" y1="312.0" x2="423.6" y2="313.4" stroke="#555" stroke-width="0.7"/>
<line x1="426.1" y1="312.0" x2="426.1" y2="313.4" stroke="#555" stroke-width="0.7"/>
<line x1="435.6" y1="312.0" x2="435.6" y2="313.4" stroke="#555" stroke-width="0.7"/>
<line x1="446.1" y1="312.0" x2="446.1" y2="313.4" stroke="#555" stroke-width="0.7"/>
<line x1="457.1" y1="312.0" x2="457.1" y2="313.4" stroke="#555" stroke-width="0.7"/>
<line x1="467.1" y1="312.0" x2="467.1" y2="313.4" stroke="#555" stroke-width="0.7"/>
<line x1="469.4" y1="312.0" x2="469.4" y2="313.4" stroke="#555" stroke-width="0.7"/>
<line x1="478.9" y1="312.0" x2="478.9" y2="313.4" stroke="#555" stroke-width="0.7"/>
<line x1="489.4" y1="312.0" x2="489.4" y2="313.4" stroke="#555" stroke-width="0.7"/>
<line x1="500.4" y1="312.0" x2="500.4" y2="313.4" stroke="#555" stroke-width="0.7"/>
<line x1="510.4" y1="312.0" x2="510.4" y2="313.4" stroke="#555" stroke-width="0.7"/>
<line x1="339.8" y1="313.6" x2="512.6" y2="313.6" stroke="#222" stroke-width="1.0"/>
<line x1="296.5" y1="366.0" x2="512.6" y2="366.0" stroke="#222" stroke-width="1.1"/>
<line x1="512.6" y1="313.6" x2="512.6" y2="366.0" stroke="#111" stroke-width="1.1"/>
<line x1="296.5" y1="313.6" x2="296.5" y2="366.5" stroke="#000" stroke-width="1.2"/>
<line x1="294.9" y1="313.90000000000003" x2="296.5" y2="313.90000000000003" stroke="#555" stroke-width="0.7"/>
<line x1="294.9" y1="323.97692307692313" x2="296.5" y2="323.97692307692313" stroke="#555" stroke-width="0.7"/>
<line x1="294.9" y1="334.05384615384617" x2="296.5" y2="334.05384615384617" stroke="#555" stroke-width="0.7"/>
<line x1="294.9" y1="344.13076923076926" x2="296.5" y2="344.13076923076926" stroke="#555" stroke-width="0.7"/>
<line x1="294.9" y1="354.2076923076923" x2="296.5" y2="354.2076923076923" stroke="#555" stroke-width="0.7"/>
<line x1="294.9" y1="364.2846153846154" x2="296.5" y2="364.2846153846154" stroke="#555" stroke-width="0.7"/>
<line x1="339.8" y1="313.6" x2="339.8" y2="366.5" stroke="#333" stroke-width="1.5"/>
<line x1="338.2" y1="313.90000000000003" x2="339.8" y2="313.90000000000003" stroke="#555" stroke-width="0.7"/>
<line x1="338.2" y1="323.97692307692313" x2="339.8" y2="323.97692307692313" stroke="#555" stroke-width="0.7"/>
<line x1="338.2" y1="334.05384615384617" x2="339.8" y2="334.05384615384617" stroke="#555" stroke-width="0.7"/>
<line x1="338.2" y1="344.13076923076926" x2="339.8" y2="344.13076923076926" stroke="#555" stroke-width="0.7"/>
<line x1="338.2" y1="354.2076923076923" x2="339.8" y2="354.2076923076923" stroke="#555" stroke-width="0.7"/>
<line x1="338.2" y1="364.2846153846154" x2="339.8" y2="364.2846153846154" stroke="#555" stroke-width="0.7"/>
<line x1="382.6" y1="313.6" x2="382.6" y2="366.5" stroke="#333" stroke-width="1.5"/>
<line x1="381.0" y1="313.90000000000003" x2="382.6" y2="313.90000000000003" stroke="#555" stroke-width="0.7"/>
<line x1="381.0" y1="323.97692307692313" x2="382.6" y2="323.97692307692313" stroke="#555" stroke-width="0.7"/>
<line x1="381.0" y1="334.05384615384617" x2="382.6" y2="334.05384615384617" stroke="#555" stroke-width="0.7"/>
<line x1="381.0" y1="344.13076923076926" x2="382.6" y2="344.13076923076926" stroke="#555" stroke-width="0.7"/>
<line x1="381.0" y1="354.2076923076923" x2="382.6" y2="354.2076923076923" stroke="#555" stroke-width="0.7"/>
<line x1="381.0" y1="364.2846153846154" x2="382.6" y2="364.2846153846154" stroke="#555" stroke-width="0.7"/>
<line x1="426.1" y1="313.6" x2="426.1" y2="366.5" stroke="#333" stroke-width="1.5"/>
<line x1="424.5" y1="313.90000000000003" x2="426.1" y2="313.90000000000003" stroke="#555" stroke-width="0.7"/>
<line x1="424.5" y1="323.97692307692313" x2="426.1" y2="323.97692307692313" stroke="#555" stroke-width="0.7"/>
<line x1="424.5" y1="334.05384615384617" x2="426.1" y2="334.05384615384617" stroke="#555" stroke-width="0.7"/>
<line x1="424.5" y1="344.13076923076926" x2="426.1" y2="344.13076923076926" stroke="#555" stroke-width="0.7"/>
<line x1="424.5" y1="354.2076923076923" x2="426.1" y2="354.2076923076923" stroke="#555" stroke-width="0.7"/>
<line x1="424.5" y1="364.2846153846154" x2="426.1" y2="364.2846153846154" stroke="#555" stroke-width="0.7"/>
<line x1="469.4" y1="313.6" x2="469.4" y2="366.5" stroke="#333" stroke-width="1.5"/>
<line x1="467.79999999999995" y1="313.90000000000003" x2="469.4" y2="313.90000000000003" stroke="#555" stroke-width="0.7"/>
<line x1="467.79999999999995" y1="323.97692307692313" x2="469.4" y2="323.97692307692313" stroke="#555" stroke-width="0.7"/>
<line x1="467.79999999999995" y1="334.05384615384617" x2="469.4" y2="334.05384615384617" stroke="#555" stroke-width="0.7"/>
<line x1="467.79999999999995" y1="344.13076923076926" x2="469.4" y2="344.13076923076926" stroke="#555" stroke-width="0.7"/>
<line x1="467.79999999999995" y1="354.2076923076923" x2="469.4" y2="354.2076923076923" stroke="#555" stroke-width="0.7"/>
<line x1="467.79999999999995" y1="364.2846153846154" x2="469.4" y2="364.2846153846154" stroke="#555" stroke-width="0.7"/>
<line x1="296.5" y1="366.0" x2="296.5" y2="367.4" stroke="#555" stroke-width="0.7"/>
<line x1="306.0" y1="366.0" x2="306.0" y2="367.4" stroke="#555" stroke-width="0.7"/>
<line x1="316.5" y1="366.0" x2="316.5" y2="367.4" stroke="#555" stroke-width="0.7"/>
<line x1="327.5" y1="366.0" x2="327.5" y2="367.4" stroke="#555" stroke-width="0.7"/>
<line x1="337.5" y1="366.0" x2="337.5" y2="367.4" stroke="#555" stroke-width="0.7"/>
<line x1="339.8" y1="366.0" x2="339.8" y2="367.4" stroke="#555" stroke-width="0.7"/>
<line x1="349.3" y1="366.0" x2="349.3" y2="367.4" stroke="#555" stroke-width="0.7"/>
<line x1="359.8" y1="366.0" x2="359.8" y2="367.4" stroke="#555" stroke-width="0.7"/>
<line x1="370.8" y1="366.0" x2="370.8" y2="367.4" stroke="#555" stroke-width="0.7"/>
<line x1="380.8" y1="366.0" x2="380.8" y2="367.4" stroke="#555" stroke-width="0.7"/>
<line x1="382.6" y1="366.0" x2="382.6" y2="367.4" stroke="#555" stroke-width="0.7"/>
<line x1="392.1" y1="366.0" x2="392.1" y2="367.4" stroke="#555" stroke-width="0.7"/>
<line x1="402.6" y1="366.0" x2="402.6" y2="367.4" stroke="#555" stroke-width="0.7"/>
<line x1="413.6" y1="366.0" x2="413.6" y2="367.4" stroke="#555" stroke-width="0.7"/>
<line x1="423.6" y1="366.0" x2="423.6" y2="367.4" stroke="#555" stroke-width="0.7"/>
<line x1="426.1" y1="366.0" x2="426.1" y2="367.4" stroke="#555" stroke-width="0.7"/>
<line x1="435.6" y1="366.0" x2="435.6" y2="367.4" stroke="#555" stroke-width="0.7"/>
<line x1="446.1" y1="366.0" x2="446.1" y2="367.4" stroke="#555" stroke-width="0.7"/>
<line x1="457.1" y1="366.0" x2="457.1" y2="367.4" stroke="#555" stroke-width="0.7"/>
<line x1="467.1" y1="366.0" x2="467.1" y2="367.4" stroke="#555" stroke-width="0.7"/>
<line x1="469.4" y1="366.0" x2="469.4" y2="367.4" stroke="#555" stroke-width="0.7"/>
<line x1="478.9" y1="366.0" x2="478.9" y2="367.4" stroke="#555" stroke-width="0.7"/>
<line x1="489.4" y1="366.0" x2="489.4" y2="367.4" stroke="#555" stroke-width="0.7"/>
<line x1="500.4" y1="366.0" x2="500.4" y2="367.4" stroke="#555" stroke-width="0.7"/>
<line x1="510.4" y1="366.0" x2="510.4" y2="367.4" stroke="#555" stroke-width="0.7"/>
<line x1="296.5" y1="313.6" x2="339.8" y2="313.6" stroke="#222" stroke-width="1.0"/>
<text x="201.6" y="12.5" font-size="16.9" text-anchor="start" font-weight="bold" font-family='"Liberation Sans", sans-serif' fill="#000" >B</text>
<text x="204.6" y="24.0" font-size="11" text-anchor="start" font-weight="bold" font-family='"Liberation Serif", serif' fill="#000" >PDC</text>
<line x1="204.3" y1="25.6" x2="227.4" y2="25.6" stroke="#000" stroke-width="1.1"/>
<text x="204.6" y="45.8" font-size="11.1" text-anchor="start" font-weight="bold" font-family='"Liberation Serif", serif' fill="#000" >CpG-B (1mm)</text>
<text x="389.6" y="12.2" font-size="12.6" text-anchor="start" font-weight="bold" font-family='"Liberation Serif", serif' fill="#000" >Time (Hours)</text>
<text x="308.9" y="25.9" font-size="12" text-anchor="middle" font-weight="bold" font-family='"Liberation Serif", serif' fill="#000" >0</text>
<text x="357.5" y="25.9" font-size="12" text-anchor="middle" font-weight="bold" font-family='"Liberation Serif", serif' fill="#000" >12</text>
<text x="408.7" y="25.9" font-size="12" text-anchor="middle" font-weight="bold" font-family='"Liberation Serif", serif' fill="#000" >24</text>
<text x="454.5" y="25.9" font-size="12" text-anchor="middle" font-weight="bold" font-family='"Liberation Serif", serif' fill="#000" >48</text>
<text x="495.8" y="25.9" font-size="12" text-anchor="middle" font-weight="bold" font-family='"Liberation Serif", serif' fill="#000" >72</text>
<text x="420.8" y="105.6" font-size="11" text-anchor="middle" font-weight="bold" font-family='"Liberation Serif", serif' fill="#000" >CD70</text>
<text x="229.8" y="134.2" font-size="16.5" text-anchor="start" font-weight="bold" font-family='"Liberation Sans", sans-serif' fill="#000" >C</text>
<text x="312.8" y="131.6" font-size="12.4" text-anchor="middle" font-weight="bold" font-family='"Liberation Serif", serif' fill="#000" >IL-3</text>
<text x="354.9" y="131.6" font-size="12.4" text-anchor="middle" font-weight="bold" font-family='"Liberation Serif", serif' fill="#000" >CpG-A</text>
<text x="403.4" y="131.6" font-size="12.4" text-anchor="middle" font-weight="bold" font-family='"Liberation Serif", serif' fill="#000" >CpG-B</text>
<text x="445.6" y="131.6" font-size="12.4" text-anchor="middle" font-weight="bold" font-family='"Liberation Serif", serif' fill="#000" >Flu</text>
<text x="487.3" y="131.6" font-size="12.4" text-anchor="middle" font-weight="bold" font-family='"Liberation Serif", serif' fill="#000" >HSV</text>
<text x="406.6" y="207.5" font-size="11" text-anchor="middle" font-weight="bold" font-family='"Liberation Serif", serif' fill="#000" >CD70</text>
<text x="232.0" y="244.8" font-size="16.9" text-anchor="start" font-weight="bold" font-family='"Liberation Sans", sans-serif' fill="#000" >D</text>
<text x="248.5" y="260.4" font-size="11" text-anchor="start" font-weight="bold" font-family='"Liberation Serif", serif' fill="#000" >B Cell</text>
<line x1="248.2" y1="261.5" x2="277.5" y2="261.5" stroke="#000" stroke-width="1.1"/>
<text x="394.4" y="243.0" font-size="12.6" text-anchor="start" font-weight="bold" font-family='"Liberation Serif", serif' fill="#000" >Time (Hours)</text>
<text x="313.8" y="256.7" font-size="12" text-anchor="middle" font-weight="bold" font-family='"Liberation Serif", serif' fill="#000" >0</text>
<text x="361.8" y="256.7" font-size="12" text-anchor="middle" font-weight="bold" font-family='"Liberation Serif", serif' fill="#000" >12</text>
<text x="407" y="256.7" font-size="12" text-anchor="middle" font-weight="bold" font-family='"Liberation Serif", serif' fill="#000" >24</text>
<text x="452.5" y="256.7" font-size="12" text-anchor="middle" font-weight="bold" font-family='"Liberation Serif", serif' fill="#000" >48</text>
<text x="493.5" y="256.7" font-size="12" text-anchor="middle" font-weight="bold" font-family='"Liberation Serif", serif' fill="#000" >72</text>
<text x="248.3" y="291.4" font-size="11" text-anchor="start" font-weight="bold" font-family='"Liberation Serif", serif' fill="#000" >CD40L</text>
<text x="248.3" y="352.4" font-size="11" text-anchor="start" font-weight="bold" font-family='"Liberation Serif", serif' fill="#000" >CD40L</text>
<text x="248.3" y="373.3" font-size="11" text-anchor="start" font-weight="bold" font-family='"Liberation Serif", serif' fill="#000" >IL-2/10</text>
<text x="392.6" y="385.8" font-size="12.2" text-anchor="middle" font-weight="bold" font-family='"Liberation Serif", serif' fill="#000" >CD27</text>
<line x1="290.2" y1="93.6" x2="513.5" y2="93.6" stroke="#333" stroke-width="1.2"/>
<path d="M516.5,93.6 L511.5,91.19999999999999 L511.5,96.0 Z" fill="#000"/>
<line x1="300.2" y1="193.2" x2="504.5" y2="193.2" stroke="#333" stroke-width="1.2"/>
<path d="M507.5,193.2 L502.5,190.79999999999998 L502.5,195.6 Z" fill="#000"/>
<line x1="309.7" y1="372.1" x2="509.29999999999995" y2="372.1" stroke="#777" stroke-width="1.2"/>
<path d="M512.3,372.1 L507.29999999999995,369.70000000000005 L507.29999999999995,374.5 Z" fill="#000"/>
</svg></div></body></html>
